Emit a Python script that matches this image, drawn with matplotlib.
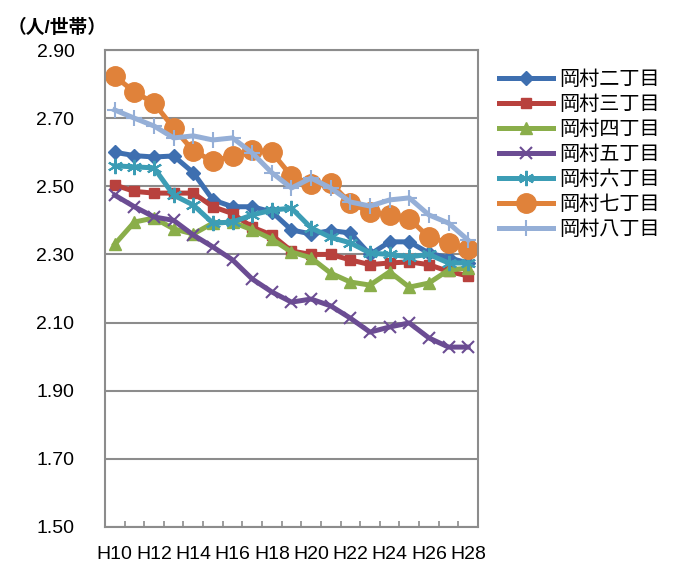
import matplotlib.pyplot as plt

plt.rcParams['font.family'] = ['Liberation Sans', 'Noto Sans CJK JP']

years = ["H10", "H11", "H12", "H13", "H14", "H15", "H16", "H17", "H18", "H19",
         "H20", "H21", "H22", "H23", "H24", "H25", "H26", "H27", "H28"]

ni = [2.60, 2.59, 2.586, 2.589, 2.54, 2.46, 2.44, 2.44, 2.425, 2.372,
      2.36, 2.37, 2.363, 2.30, 2.337, 2.337, 2.304, 2.29, 2.275]
san = [2.504, 2.485, 2.48, 2.48, 2.48, 2.44, 2.42, 2.38, 2.357, 2.31,
       2.30, 2.30, 2.284, 2.27, 2.275, 2.278, 2.27, 2.25, 2.237]
yon = [2.33, 2.395, 2.407, 2.375, 2.36, 2.392, 2.395, 2.372, 2.345, 2.307,
       2.29, 2.245, 2.219, 2.21, 2.249, 2.204, 2.216, 2.254, 2.26]
go = [2.474, 2.44, 2.41, 2.40, 2.357, 2.322, 2.284, 2.228, 2.19, 2.16,
      2.169, 2.149, 2.113, 2.072, 2.087, 2.099, 2.055, 2.028, 2.028]
roku = [2.56, 2.557, 2.554, 2.474, 2.445, 2.392, 2.395, 2.416, 2.43, 2.436,
        2.378, 2.35, 2.334, 2.304, 2.30, 2.293, 2.30, 2.275, 2.275]
nana = [2.823, 2.777, 2.744, 2.671, 2.604, 2.574, 2.589, 2.606, 2.60, 2.53,
        2.507, 2.51, 2.45, 2.425, 2.415, 2.405, 2.35, 2.335, 2.315]
hachi = [2.724, 2.70, 2.677, 2.642, 2.648, 2.636, 2.642, 2.598, 2.54, 2.495,
         2.524, 2.495, 2.454, 2.442, 2.46, 2.466, 2.416, 2.392, 2.342]

names = ["岡村二丁目", "岡村三丁目", "岡村四丁目", "岡村五丁目",
         "岡村六丁目", "岡村七丁目", "岡村八丁目"]
series = [ni, san, yon, go, roku, nana, hachi]

# colors / markers roughly matching the Excel default palette
styles = [
    dict(color="#3E6FB0", marker="D", ms=7),
    dict(color="#B8413D", marker="s", ms=7),
    dict(color="#8AAE4A", marker="^", ms=8),
    dict(color="#6B4C93", marker="x", ms=9, mew=1.5),
    dict(color="#3C9DB5", marker=(6, 2, 0), ms=11, mew=1.5),
    dict(color="#E0823A", marker="o", ms=14),
    dict(color="#95AFD7", marker="+", ms=11, mew=1.5),
]

fig = plt.figure(figsize=(6.77, 5.62), dpi=100)
ax = fig.add_axes([0.155, 0.0623, 0.551, 0.8487])

x = list(range(len(years)))
for vals, name, st in zip(series, names, styles):
    ax.plot(x, vals, label=name, lw=3.6, color=st["color"], marker=st["marker"],
            markersize=st["ms"], markeredgewidth=st.get("mew", 1),
            markerfacecolor=st["color"], markeredgecolor=st["color"])

ax.set_xlim(-0.5, len(years) - 0.5)
ax.set_ylim(1.50, 2.90)
yt = [1.50, 1.70, 1.90, 2.10, 2.30, 2.50, 2.70, 2.90]
ax.set_yticks(yt)
ax.set_yticklabels([f"{v:.2f}" for v in yt], fontsize=14)
ax.yaxis.grid(True, color="#8c8c8c", lw=1.5)
ax.set_axisbelow(True)

ax.set_xticks(x[::2])
ax.set_xticklabels(years[::2], fontsize=14)
ax.set_xticks([i - 0.5 for i in range(1, len(years))], minor=True)
ax.tick_params(axis="x", which="major", length=0, pad=14)
ax.tick_params(axis="x", which="minor", direction="in", length=4, color="#8c8c8c", width=1.2)
ax.tick_params(axis="y", length=0, pad=22)

for s in ax.spines.values():
    s.set_color("#8c8c8c")
    s.set_linewidth(1.5)

fig.text(0.012, 0.950, "（人/世帯）", fontsize=13.5, fontweight="bold", va="center")

ax.legend(loc="upper left", bbox_to_anchor=(1.035, 0.975), frameon=False,
          fontsize=14.5, handlelength=2.7, labelspacing=0.3, handletextpad=0.3,
          borderaxespad=0)

fig.savefig("out.png", dpi=100)
